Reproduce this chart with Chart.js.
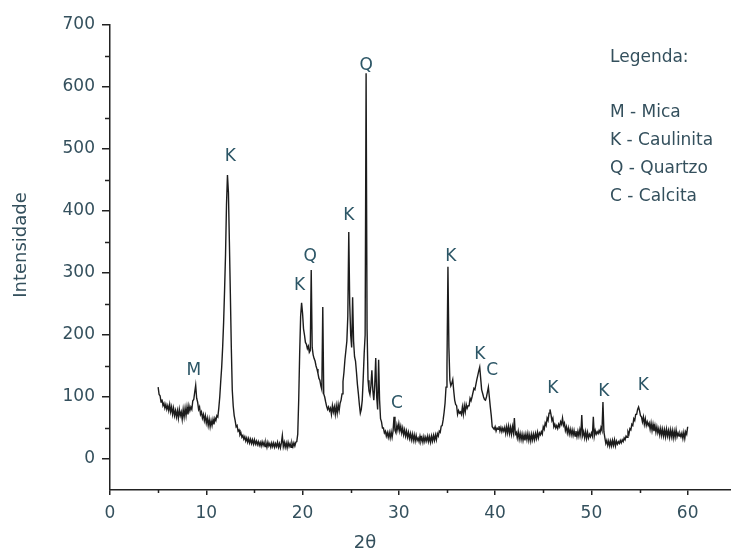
<!DOCTYPE html>
<html>
<head>
<meta charset="utf-8">
<script src="https://cdn.jsdelivr.net/npm/chart.js@4"></script>
<style>
  body { margin: 0; background: #fff; }
  canvas { display: block; }
</style>
</head>
<body>
<canvas id="xrdChart" width="731" height="555"></canvas>
<script>
// sampling grid of the scan (2θ, degrees)
const startAngle = 5;
const angleStep = 0.1;

// intensity, one row per degree (x.0 ... x.9)
const intensity = [
  116, 104, 102, 92, 96, 86, 90, 82, 88, 80,      // 5
  86, 78, 88, 76, 84, 72, 82, 70, 78, 68,         // 6
  78, 66, 80, 70, 76, 64, 80, 68, 82, 70,         // 7
  84, 72, 86, 78, 84, 80, 94, 96, 108, 119,       // 8
  98, 92, 80, 84, 72, 76, 66, 72, 62, 70,         // 9
  58, 66, 54, 64, 52, 62, 54, 64, 56, 66,         // 10
  62, 70, 68, 82, 100, 125, 148, 180, 220, 272,   // 11
  330, 410, 458, 430, 350, 267, 180, 111, 85, 70, // 12
  62, 52, 54, 45, 47, 39, 42, 35, 38, 32,         // 13
  36, 29, 34, 27, 33, 26, 32, 25, 31, 24,         // 14
  31, 24, 29, 23, 28, 22, 27, 21, 28, 22,         // 15
  27, 20, 26, 19, 27, 21, 25, 19, 26, 20,         // 16
  26, 19, 25, 20, 27, 19, 25, 18, 26, 38,         // 17
  20, 27, 19, 26, 18, 27, 20, 25, 19, 26,         // 18
  20, 26, 21, 27, 28, 40, 95, 170, 230, 252,      // 19
  235, 210, 200, 188, 185, 178, 182, 172, 175, 305, // 20
  180, 168, 162, 158, 150, 145, 138, 130, 127, 118, // 21
  112, 245, 105, 100, 92, 85, 80, 84, 78, 82,     // 22
  72, 86, 76, 84, 72, 86, 74, 88, 78, 90,         // 23
  95, 105, 125, 140, 160, 175, 190, 230, 366, 250, // 24
  200, 180, 261, 190, 165, 158, 140, 120, 105, 88, // 25
  74, 80, 95, 130, 170, 200, 622, 210, 127, 110,  // 26
  104, 118, 143, 110, 95, 120, 163, 100, 80, 160, // 27
  95, 65, 60, 50, 50, 42, 45, 37, 43, 35,         // 28
  43, 34, 44, 35, 45, 68, 46, 42, 55, 47,         // 29
  57, 45, 53, 42, 50, 39, 47, 37, 45, 35,         // 30
  43, 33, 41, 31, 40, 30, 39, 29, 38, 30,         // 31
  34, 28, 37, 29, 35, 27, 36, 28, 35, 29,         // 32
  37, 28, 36, 27, 37, 29, 38, 30, 39, 31,         // 33
  41, 37, 45, 43, 53, 54, 63, 75, 90, 116,        // 34
  150, 310, 180, 127, 118, 122, 128, 110, 95, 88, // 35
  86, 72, 78, 74, 76, 72, 84, 72, 86, 76,         // 36
  88, 82, 86, 86, 98, 94, 100, 100, 114, 112,     // 37
  120, 128, 135, 142, 148, 130, 112, 106, 100, 96, // 38
  95, 100, 108, 116, 100, 84, 70, 52, 50, 48,     // 39
  52, 45, 50, 48, 53, 45, 51, 44, 50, 45,         // 40
  51, 41, 52, 42, 53, 41, 51, 40, 52, 42,         // 41
  66, 40, 43, 34, 44, 32, 41, 31, 40, 30,         // 42
  39, 30, 40, 31, 41, 30, 39, 29, 40, 31,         // 43
  40, 31, 41, 33, 43, 34, 42, 39, 44, 40,         // 44
  52, 48, 58, 54, 66, 62, 74, 80, 72, 62,         // 45
  66, 52, 56, 50, 54, 49, 56, 52, 60, 56,         // 46
  66, 54, 58, 46, 52, 42, 50, 40, 48, 39,         // 47
  47, 38, 46, 37, 45, 36, 45, 37, 47, 38,         // 48
  71, 38, 44, 34, 44, 33, 43, 34, 40, 36,         // 49
  42, 37, 68, 37, 46, 40, 44, 41, 46, 42,         // 50
  51, 46, 92, 44, 34, 25, 30, 22, 29, 21,         // 51
  29, 21, 30, 22, 31, 21, 29, 24, 28, 25,         // 52
  30, 26, 31, 28, 34, 31, 37, 35, 44, 40,         // 53
  49, 47, 56, 54, 65, 62, 72, 72, 80, 84,         // 54
  78, 70, 68, 60, 68, 56, 65, 54, 60, 54,         // 55
  58, 48, 58, 46, 56, 45, 54, 43, 52, 42,         // 56
  49, 39, 49, 38, 48, 37, 47, 36, 48, 37,         // 57
  46, 35, 47, 36, 46, 34, 45, 35, 47, 36,         // 58
  42, 37, 41, 36, 42, 33, 43, 33, 44, 40,         // 59
  52                                              // 60
];

// peak markers (letter, 2θ, intensity where the letter sits)
const peakLabels = ["M", "K", "K", "Q", "K", "Q", "C", "K", "K", "C", "K", "K", "K"];
const peakLabelAngle = [8.7, 12.5, 19.7, 20.8, 24.8, 26.6, 29.8, 35.4, 38.4, 39.7, 46.0, 51.3, 55.4];
const peakLabelIntensity = [142, 487, 279, 326, 392, 635, 89, 327, 169, 142, 114, 108, 119];

// axis ticks
const xMajorTicks = [0, 10, 20, 30, 40, 50, 60];
const xMinorTicks = [5, 15, 25, 35, 45, 55];
const yMajorTicks = [0, 100, 200, 300, 400, 500, 600, 700];
const yMinorTicks = [50, 150, 250, 350, 450, 550, 650];

const legendTitle = "Legenda:";
const legendItems = ["M - Mica", "K - Caulinita", "Q - Quartzo", "C - Calcita"];

const textColor = "#34505d";
const labelColor = "#2c5666";
const axisColor = "#222";
const fontFamily = "'DejaVu Sans', sans-serif";

const points = intensity.map((v, i) => ({
  x: Math.round((startAngle + i * angleStep) * 10) / 10,
  y: v,
}));

// minor ticks, peak letters, legend and axis titles
const decorations = {
  id: "decorations",
  afterDraw(chart) {
    const ctx = chart.ctx;
    const xs = chart.scales.x;
    const ys = chart.scales.y;
    const area = chart.chartArea;
    ctx.save();

    ctx.strokeStyle = axisColor;
    ctx.lineWidth = 1.5;
    ctx.beginPath();
    yMinorTicks.forEach((v) => {
      const py = Math.round(ys.getPixelForValue(v)) + 0.5;
      ctx.moveTo(area.left - 5, py);
      ctx.lineTo(area.left, py);
    });
    xMinorTicks.forEach((v) => {
      const px = Math.round(xs.getPixelForValue(v)) + 0.5;
      ctx.moveTo(px, area.bottom);
      ctx.lineTo(px, area.bottom + 3);
    });
    ctx.stroke();

    ctx.fillStyle = labelColor;
    ctx.font = "17px " + fontFamily;
    ctx.textAlign = "center";
    ctx.textBaseline = "middle";
    peakLabels.forEach((lbl, i) => {
      ctx.fillText(
        lbl,
        xs.getPixelForValue(peakLabelAngle[i]),
        ys.getPixelForValue(peakLabelIntensity[i])
      );
    });

    ctx.fillStyle = textColor;
    ctx.textAlign = "left";
    ctx.font = "17px " + fontFamily;
    ctx.fillText(legendTitle, 610, 58);
    legendItems.forEach((item, i) => {
      ctx.fillText(item, 610, 113 + i * 28);
    });

    ctx.font = "18px " + fontFamily;
    ctx.textAlign = "center";
    ctx.fillText("2θ", 365, 543);
    ctx.translate(21, 245);
    ctx.rotate(-Math.PI / 2);
    ctx.fillText("Intensidade", 0, 0);

    ctx.restore();
  },
};

new Chart(document.getElementById("xrdChart"), {
  type: "line",
  data: {
    datasets: [
      {
        label: "Intensidade",
        data: points,
        borderColor: "#1c1c1c",
        borderWidth: 1.4,
        pointRadius: 0,
        tension: 0,
        fill: false,
      },
    ],
  },
  options: {
    responsive: false,
    animation: false,
    layout: { padding: { top: 25, right: 0, left: 0, bottom: 0 } },
    plugins: {
      legend: { display: false },
      tooltip: { enabled: false },
    },
    scales: {
      x: {
        type: "linear",
        min: 0,
        max: 64.5,
        afterBuildTicks: (scale) => {
          scale.ticks = xMajorTicks.map((v) => ({ value: v }));
        },
        afterFit: (scale) => {
          scale.height = 65;
        },
        border: { display: true, color: axisColor, width: 1.5 },
        grid: {
          drawOnChartArea: false,
          drawTicks: true,
          tickLength: 5,
          color: axisColor,
          lineWidth: 1.5,
        },
        ticks: {
          color: textColor,
          padding: 8,
          maxRotation: 0,
          font: { family: fontFamily, size: 17 },
        },
      },
      y: {
        min: -50,
        max: 700,
        afterBuildTicks: (scale) => {
          scale.ticks = yMajorTicks.map((v) => ({ value: v }));
        },
        afterFit: (scale) => {
          scale.width = 110;
        },
        border: { display: true, color: axisColor, width: 1.5 },
        grid: {
          drawOnChartArea: false,
          drawTicks: true,
          tickLength: 8,
          color: axisColor,
          lineWidth: 1.5,
        },
        ticks: {
          color: textColor,
          padding: 7,
          font: { family: fontFamily, size: 17 },
        },
      },
    },
  },
  plugins: [decorations],
});
</script>
</body>
</html>
